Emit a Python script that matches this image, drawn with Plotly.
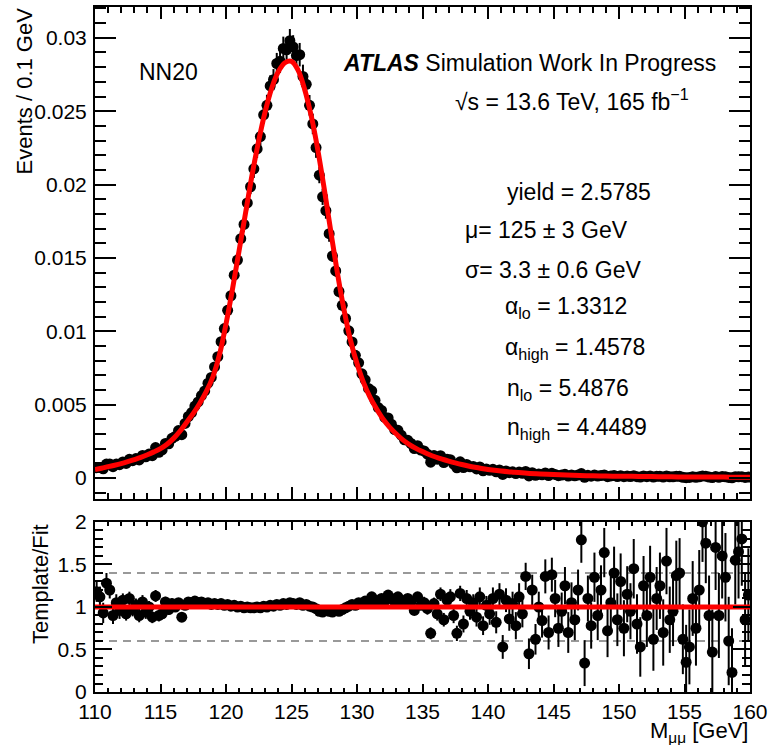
import numpy as np
import plotly.graph_objects as go

# -----------------------------
# Values
# -----------------------------
# template points: one point every 0.25 GeV (bin centres 110.125 ... 159.875)
mass = np.arange(110.125, 160.0, 0.25)

events = [
    0.00070, 0.00072, 0.00063, 0.00095,
    0.00096, 0.00077, 0.00095, 0.00091,
    0.00109, 0.00099, 0.00127, 0.00118,
    0.00132, 0.00123, 0.00154, 0.00144,
    0.00163, 0.00152, 0.00207, 0.00175,
    0.00191, 0.00235, 0.00233, 0.00270,
    0.00283, 0.00323, 0.00295, 0.00372,
    0.00419, 0.00446, 0.00490, 0.00518,
    0.00562, 0.00593, 0.00646, 0.00685,
    0.00757, 0.00827, 0.00929, 0.01018,
    0.01143, 0.01242, 0.01382, 0.01485,
    0.01631, 0.01728, 0.01875, 0.01985,
    0.02107, 0.02243, 0.02327, 0.02475,
    0.02540, 0.02672, 0.02715, 0.02825,
    0.02841, 0.02928, 0.02918, 0.02980,
    0.02938, 0.02879, 0.02885, 0.02737,
    0.02683, 0.02540, 0.02413, 0.02252,
    0.02064, 0.01916, 0.01822, 0.01665,
    0.01513, 0.01411, 0.01271, 0.01177,
    0.01087, 0.01003, 0.00927, 0.00836,
    0.00785, 0.00710, 0.00669, 0.00610,
    0.00594, 0.00529, 0.00480, 0.00460,
    0.00413, 0.00409, 0.00367, 0.00330,
    0.00325, 0.00292, 0.00260, 0.00257,
    0.00235, 0.00201, 0.00220, 0.00190,
    0.00184, 0.00162, 0.00108, 0.00153,
    0.00128, 0.00152, 0.00105, 0.00127,
    0.00125, 0.00095, 0.00069, 0.00110,
    0.00071, 0.00092, 0.00076, 0.00079,
    0.00062, 0.00075, 0.00049, 0.00061,
    0.00052, 0.00059, 0.00042, 0.00055,
    0.00024, 0.00048, 0.00036, 0.00042,
    0.00030, 0.00040, 0.00032, 0.00045,
    0.00014, 0.00036, 0.00018, 0.00028,
    0.00022, 0.00034, 0.00017, 0.00032,
    0.00024, 0.00016, 0.00020, 0.00025,
    0.00013, 0.00020, 0.00015, 0.00020,
    0.00030, 0.00005, 0.00018, 0.00012,
    0.00020, 0.00013, 0.00017, 0.00021,
    0.00009, 0.00014, 0.00017, 0.00010,
    0.00016, 0.00009, 0.00013, 0.00010,
    0.00016, 0.00009, 0.00006, 0.00014,
    0.00009, 0.00014, 0.00006, 0.00011,
    0.00011, 0.00006, 0.00014, 0.00008,
    0.00008, 0.00011, 0.00011, 0.00005,
    0.00002, 0.00004, 0.00008, 0.00005,
    0.00008, 0.00014, 0.00012, 0.00006,
    0.00003, 0.00010, 0.00005, 0.00010,
    0.00008, 0.00004, 0.00001, 0.00009,
    0.00008, 0.00009, 0.00004, 0.00006,
]

# statistical error per 1 GeV slice (110, 111, ... 159)
events_err_per_gev = [
    0.00008, 0.00008, 0.00009, 0.00010, 0.00012,
    0.00013, 0.00015, 0.00016, 0.00020, 0.00026,
    0.00036, 0.00050, 0.00062, 0.00072, 0.00080,
    0.00080, 0.00070, 0.00055, 0.00040, 0.00030,
    0.00020, 0.00016, 0.00012, 0.00009, 0.00007,
    0.00007, 0.00007, 0.00007, 0.00007, 0.00007,
    0.00006, 0.00006, 0.00006, 0.00006, 0.00006,
    0.00005, 0.00005, 0.00005, 0.00005, 0.00005,
    0.00004, 0.00004, 0.00004, 0.00004, 0.00004,
    0.00004, 0.00004, 0.00004, 0.00004, 0.00004,
]

# Template / Fit ratio, same 0.25 GeV points
ratio = [
    1.18, 1.12, 0.93, 1.28,
    1.20, 0.90, 1.05, 0.96,
    1.08, 0.92, 1.10, 0.97,
    1.02, 0.90, 1.06, 0.94,
    1.00, 0.88, 1.13, 0.90,
    0.92, 1.06, 0.97, 1.04,
    1.00, 1.05, 0.88, 1.02,
    1.06, 1.05, 1.07, 1.05,
    1.06, 1.04, 1.05, 1.03,
    1.04, 1.03, 1.04, 1.02,
    1.03, 1.01, 1.02, 1.00,
    1.01, 0.99, 1.00, 0.99,
    0.99, 1.00, 0.99, 1.01,
    1.00, 1.02, 1.01, 1.03,
    1.02, 1.04, 1.03, 1.05,
    1.04, 1.03, 1.05, 1.02,
    1.03, 1.01, 1.00, 0.98,
    0.95, 0.94, 0.96, 0.95,
    0.94, 0.96, 0.95, 0.97,
    0.99, 1.01, 1.03, 1.02,
    1.05, 1.04, 1.07, 1.06,
    1.12, 1.08, 1.06, 1.10,
    1.07, 1.14, 1.10, 1.06,
    1.12, 1.08, 1.04, 1.10,
    1.06, 0.96, 1.12, 1.02,
    1.05, 0.98, 0.69, 1.04,
    0.92, 1.15, 0.85, 1.08,
    1.12, 0.90, 0.69, 1.16,
    0.80, 1.10, 0.95, 1.05,
    0.88, 1.12, 0.78, 1.02,
    0.92, 1.10, 0.82, 1.15,
    0.53, 1.08, 0.86, 1.04,
    0.78, 1.12, 0.92, 1.36,
    0.45, 1.20, 0.62, 1.00,
    0.84, 1.36, 0.70, 1.38,
    1.10, 0.75, 0.95, 1.25,
    0.70, 1.05, 0.85, 1.20,
    1.79, 0.34, 1.10, 0.78,
    1.35, 0.90, 1.20, 1.64,
    0.72, 1.05, 1.40, 0.85,
    1.30, 0.75, 1.15, 0.95,
    1.45, 0.80, 0.53, 1.25,
    0.90, 1.35, 0.62, 1.10,
    1.25, 0.70, 1.54, 0.85,
    0.95, 1.37, 1.40, 0.62,
    0.35, 0.53, 1.10, 0.75,
    1.20, 2.00, 1.75, 0.90,
    0.47, 1.70, 0.90, 1.60,
    1.35, 0.60, 0.23, 1.55,
    1.65, 1.80, 0.85, 1.14,
]

ratio_err_per_gev = [
    0.12, 0.10, 0.08, 0.08, 0.07, 0.06, 0.05, 0.03, 0.03, 0.03,
    0.03, 0.03, 0.03, 0.03, 0.03, 0.03, 0.03, 0.03, 0.03, 0.03,
    0.03, 0.03, 0.03, 0.03, 0.03, 0.07, 0.08, 0.09, 0.10, 0.11,
    0.13, 0.14, 0.16, 0.18, 0.20, 0.22, 0.24, 0.27, 0.29, 0.31,
    0.33, 0.35, 0.37, 0.39, 0.41, 0.44, 0.47, 0.50, 0.52, 0.55,
]

# fitted double-sided Crystal Ball
fit_mass = np.concatenate([np.arange(110.0, 140.01, 0.5), np.arange(141.0, 160.01, 1.0)])
fit_events = [
    0.00057, 0.00066, 0.00077, 0.00087, 0.00098, 0.00111, 0.00125, 0.00140,
    0.00158, 0.00178, 0.00200, 0.00230, 0.00270, 0.00320, 0.00380, 0.00440,
    0.00510, 0.00590, 0.00690, 0.00840, 0.01050, 0.01290, 0.01550, 0.01810,
    0.02070, 0.02300, 0.02500, 0.02660, 0.02770, 0.02830, 0.02840, 0.02780,
    0.02650, 0.02470, 0.02240, 0.01970, 0.01680, 0.01400, 0.01150, 0.00940,
    0.00780, 0.00650, 0.00550, 0.00470, 0.00400, 0.00345, 0.00300, 0.00260,
    0.00228, 0.00202, 0.00180, 0.00160, 0.00143, 0.00128, 0.00115, 0.00103,
    0.00092, 0.00082, 0.00073, 0.00065, 0.00058,
    0.00047, 0.00039, 0.00032, 0.00027, 0.00023, 0.00020, 0.00017, 0.00015,
    0.00013, 0.00012, 0.00011, 0.00010, 0.00009, 0.00008, 0.00007, 0.00007,
    0.00006, 0.00006, 0.00005, 0.00005,
]

fit_labels = [
    ("yield = 2.5785", 0.626, 0.730),
    ("μ= 125 ± 3 GeV", 0.5618, 0.6745),
    ("σ= 3.3 ± 0.6 GeV", 0.5618, 0.616),
    ("α<sub>lo</sub> = 1.3312", 0.623, 0.562),
    ("α<sub>high</sub> = 1.4578", 0.623, 0.502),
    ("n<sub>lo</sub> = 5.4876", 0.626, 0.441),
    ("n<sub>high</sub> = 4.4489", 0.626, 0.385),
]

# per-point errors from the 1 GeV slices
events_err = np.repeat(events_err_per_gev, 4)
ratio_err = np.repeat(ratio_err_per_gev, 4)

FONT = "Liberation Sans, Arial, Helvetica, sans-serif"
BLACK = "#000000"
RED = "#ff0000"

fig = go.Figure()

# top pad: template points + fit
fig.add_trace(go.Scatter(
    x=mass, y=events, mode="markers",
    marker=dict(color=BLACK, size=11),
    error_y=dict(type="data", array=events_err, color=BLACK, thickness=2, width=0),
    xaxis="x", yaxis="y", showlegend=False,
))
fig.add_trace(go.Scatter(
    x=fit_mass, y=fit_events, mode="lines",
    line=dict(color=RED, width=5, shape="spline"),
    xaxis="x", yaxis="y", showlegend=False,
))

# bottom pad: ratio
fig.add_trace(go.Scatter(
    x=mass, y=ratio, mode="markers",
    marker=dict(color=BLACK, size=11),
    error_y=dict(type="data", array=ratio_err, color=BLACK, thickness=2, width=0),
    xaxis="x2", yaxis="y2", showlegend=False,
))
fig.add_trace(go.Scatter(
    x=[110, 160], y=[1, 1], mode="lines",
    line=dict(color=RED, width=5),
    xaxis="x2", yaxis="y2", showlegend=False,
))

for level in (1.4, 0.6):
    fig.add_shape(type="line", xref="x2", yref="y2", x0=110, x1=160, y0=level, y1=level,
                  line=dict(color="#999999", width=2, dash="8px,6px"), layer="below")

axis_common = dict(
    showline=True, linecolor=BLACK, linewidth=2, mirror="ticks",
    ticks="inside", tickcolor=BLACK, tickwidth=2,
    showgrid=False, zeroline=False, automargin=False,
    tickfont=dict(family=FONT, size=21, color=BLACK),
)

fig.update_layout(
    width=771, height=745,
    margin=dict(l=95, r=21, t=7, b=53),
    paper_bgcolor="white", plot_bgcolor="white",
    font=dict(family=FONT, size=21, color=BLACK),
    xaxis=dict(axis_common, domain=[0, 1], range=[110, 160], anchor="y",
               dtick=5, ticklen=12, showticklabels=False,
               minor=dict(dtick=1, ticklen=6, tickwidth=1.5, tickcolor=BLACK, ticks="inside")),
    yaxis=dict(axis_common, domain=[0.2818, 1], range=[-0.00143, 0.0321], anchor="x",
               dtick=0.005, tick0=0, ticklen=21, ticklabelstandoff=2,
               minor=dict(dtick=0.001, ticklen=11, tickwidth=1.5, tickcolor=BLACK, ticks="inside")),
    xaxis2=dict(axis_common, domain=[0, 1], range=[110, 160], anchor="y2", matches="x",
                dtick=5, ticklen=8,
                minor=dict(dtick=1, ticklen=4, tickwidth=1.5, tickcolor=BLACK, ticks="inside")),
    yaxis2=dict(axis_common, domain=[0, 0.2482], range=[0, 2], anchor="x2",
                dtick=0.5, tick0=0, ticklen=17, ticklabelstandoff=2,
                minor=dict(dtick=0.1, ticklen=8, tickwidth=1.5, tickcolor=BLACK, ticks="inside")),
)

text_font = dict(family=FONT, size=23, color=BLACK)
annotations = [
    dict(text="NN20", x=0.0641, y=0.905),
    dict(text="<b><i>ATLAS</i></b> Simulation Work In Progress", x=0.3756, y=0.918),
    dict(text="√s = 13.6 TeV, 165 fb<sup>−1</sup>", x=0.5466, y=0.864),
]
annotations += [dict(text=t, x=x, y=y) for t, x, y in fit_labels]
for a in annotations:
    fig.add_annotation(xref="paper", yref="paper", xanchor="left", yanchor="middle",
                       showarrow=False, font=text_font, **a)

# ROOT-style axis titles, pushed to the end of each axis
fig.add_annotation(text="Events / 0.1 GeV", xref="paper", yref="paper", x=-0.1084, y=1.003,
                   xanchor="center", yanchor="top", textangle=-90, showarrow=False,
                   font=dict(family=FONT, size=22, color=BLACK))
fig.add_annotation(text="Template/Fit", xref="paper", yref="paper", x=-0.084, y=0.248,
                   xanchor="center", yanchor="top", textangle=-90, showarrow=False,
                   font=dict(family=FONT, size=22, color=BLACK))
fig.add_annotation(text="M<sub>μμ</sub> [GeV]", xref="paper", yref="paper", x=1.0, y=-0.058,
                   xanchor="right", yanchor="middle", showarrow=False,
                   font=dict(family=FONT, size=22, color=BLACK))

# the page body has a default 8px margin; drop it so the figure fills the window
fig.write_html("out.html", config={"displayModeBar": False},
               post_script="document.body.style.margin = '0';")
